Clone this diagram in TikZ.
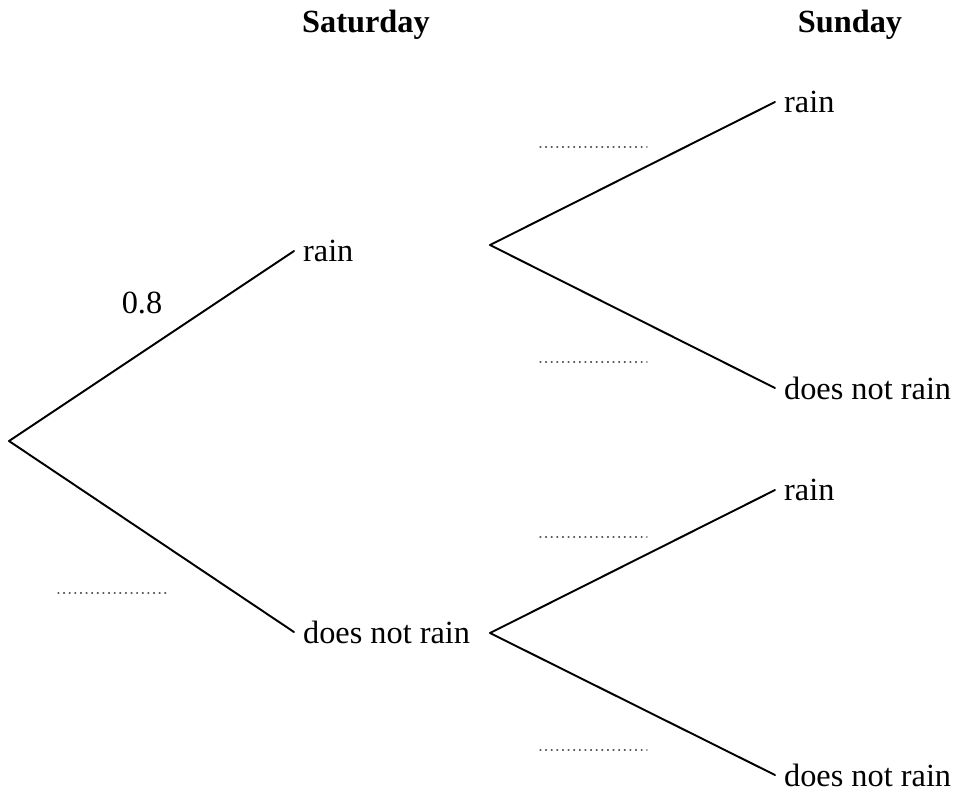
\documentclass[tikz,border=0pt]{standalone}
\usepackage{fontspec}
\setmainfont{Liberation Serif}
\usetikzlibrary{positioning}

\begin{document}
\begin{tikzpicture}[x=0.02cm,y=-0.02cm,line cap=round,line join=round,
  every node/.style={font=\fontsize{18.4}{22}\selectfont,inner sep=0pt},
  head/.style={anchor=base,font=\fontsize{18.4}{22}\selectfont\bfseries},
  branch/.style={line width=1.1pt},
  blank/.style={line width=0.7pt,color=black!65,dash pattern=on 0.5pt off 2.7pt}]
  \useasboundingbox (0,0) rectangle (955,796);
  % headings
  \node[head] (sat) at (366,32) {Saturday};
  \node[head] (sun) at (850,32) {Sunday};
  % branch points
  \coordinate (root) at (9,441);
  \coordinate (satR) at (294,251);
  \coordinate (satN) at (294,632);
  \coordinate (r) at (490,245);
  \coordinate (n) at (490,633);
  \coordinate (rr) at (775,102);
  \coordinate (rn) at (775,388);
  \coordinate (nr) at (775,490);
  \coordinate (nn) at (775,775);
  % first stage
  \draw[branch] (root) -- (satR);
  \draw[branch] (root) -- (satN);
  \node[right=5pt of satR] (satRtxt) {rain};
  \node[right=5pt of satN] (satNtxt) {does not rain};
  % second stage
  \draw[branch] (r) -- (rr);
  \draw[branch] (r) -- (rn);
  \draw[branch] (n) -- (nr);
  \draw[branch] (n) -- (nn);
  \node[right=5pt of rr] (rrtxt) {rain};
  \node[right=5pt of rn] (rntxt) {does not rain};
  \node[right=5pt of nr] (nrtxt) {rain};
  \node[right=5pt of nn] (nntxt) {does not rain};
  % probabilities
  \node[anchor=base] (p) at (142,313) {0.8};
  \draw[blank] (58,593) -- (166,593);
  \draw[blank] (540,147) -- (647,147);
  \draw[blank] (540,362) -- (647,362);
  \draw[blank] (540,537) -- (647,537);
  \draw[blank] (540,750) -- (647,750);
\end{tikzpicture}
\end{document}
